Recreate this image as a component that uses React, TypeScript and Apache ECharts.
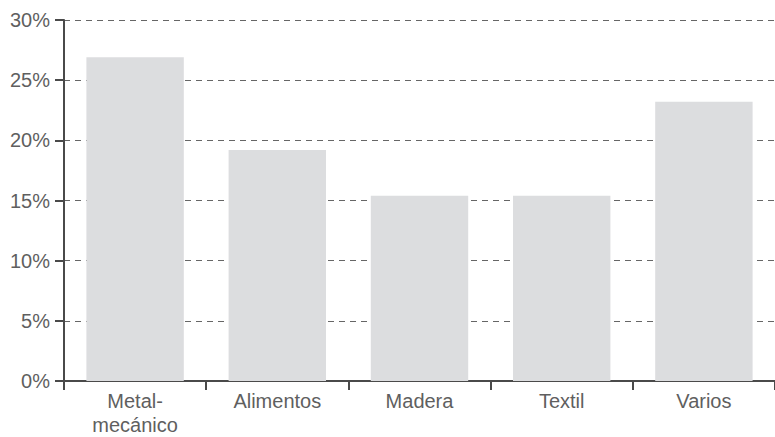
import React, { useEffect, useRef } from "react";
import * as echarts from "echarts";

const categories = ["Metal-\nmecánico", "Alimentos", "Madera", "Textil", "Varios"];
const values = [26.9, 19.2, 15.4, 15.4, 23.2];
const yTicks = [0, 5, 10, 15, 20, 25, 30];

const FONT = "'Liberation Sans', Arial, sans-serif";

export default function App() {
  const ref = useRef<HTMLDivElement>(null);
  useEffect(() => {
    document.body.style.margin = "0";
    const chart = echarts.init(ref.current!, undefined, { renderer: "svg" });
    chart.setOption({
      animation: false,
      grid: { left: 64, right: -4, top: 20, bottom: 56, containLabel: false },
      xAxis: {
        type: "category",
        data: categories,
        axisLine: { lineStyle: { color: "#4a4a4a", width: 2 } },
        axisTick: { show: true, length: 9, lineStyle: { color: "#4a4a4a", width: 2 } },
        axisLabel: {
          color: "#5f5f5f",
          fontSize: 20,
          fontFamily: FONT,
          lineHeight: 24,
          margin: 8,
        },
      },
      yAxis: {
        type: "value",
        min: yTicks[0],
        max: yTicks[yTicks.length - 1],
        interval: 5,
        axisLine: { show: true, lineStyle: { color: "#4a4a4a", width: 2 } },
        axisTick: { show: true, length: 9, lineStyle: { color: "#4a4a4a", width: 2 } },
        axisLabel: {
          color: "#5f5f5f",
          fontSize: 20,
          fontFamily: FONT,
          margin: 14,
          formatter: (v: number) => `${v}%`,
        },
        splitLine: {
          show: true,
          lineStyle: { color: "#666", width: 1, type: [6, 5] },
        },
      },
      series: [
        {
          type: "bar",
          data: values,
          barWidth: "68.5%",
          itemStyle: { color: "#dcdddf" },
        },
      ],
    });
    return () => chart.dispose();
  }, []);
  return <div ref={ref} style={{ width: 775, height: 437 }} />;
}
